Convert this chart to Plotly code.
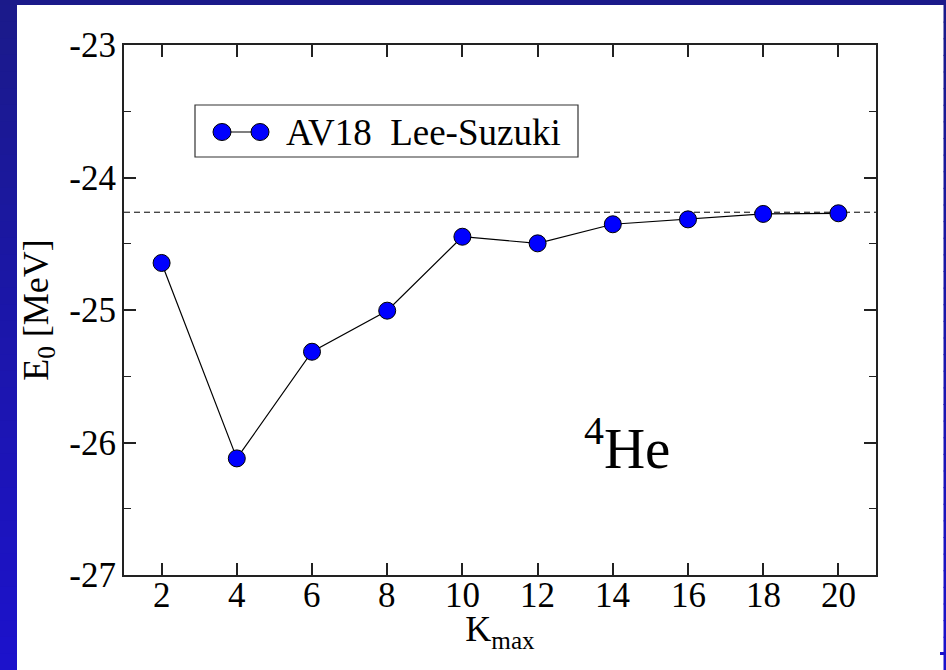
import plotly.graph_objects as go

# ---------------- data ----------------
k_max = [2, 4, 6, 8, 10, 12, 14, 16, 18, 20]
e0 = [-24.645, -26.12, -25.315, -25.005, -24.447, -24.497, -24.353, -24.316, -24.275, -24.27]
e_ref = -24.262  # dashed reference line
series_name = "AV18\u00a0\u00a0Lee-Suzuki"
x_tick_vals = [2, 4, 6, 8, 10, 12, 14, 16, 18, 20]
x_tick_labels = ["2", "4", "6", "8", "10", "12", "14", "16", "18", "20"]
y_tick_vals = [-27, -26, -25, -24, -23]
y_tick_labels = ["-27", "-26", "-25", "-24", "-23"]

FONT = "Liberation Serif, Times New Roman, serif"
W, H = 946, 670
L, R, T, B = 124, 876, 45, 575


def pxx(x):
    return (x - L) / (R - L)


def pxy(y):
    return (B - y) / (B - T)


fig = go.Figure()
fig.add_trace(go.Scatter(
    x=k_max, y=e0, mode="lines+markers", name=series_name,
    line=dict(color="black", width=1.2),
    marker=dict(size=17, color="#0000ff", line=dict(color="black", width=1)),
    showlegend=False,
))

shapes = []
# dashed reference line
shapes.append(dict(type="line", xref="paper", yref="y", x0=0, x1=1, y0=e_ref, y1=e_ref,
                   line=dict(color="black", width=1, dash="6px,4px"), layer="below"))

# slide background (blue frame with vertical gradient)
def mix(c1, c2, t):
    return "rgb(%d,%d,%d)" % tuple(round(a + (b - a) * t) for a, b in zip(c1, c2))

top_c = (27, 26, 138)
bot_c = (28, 18, 204)
shapes.append(dict(type="rect", xref="paper", yref="paper", x0=pxx(0), x1=pxx(W),
                   y0=pxy(5), y1=pxy(0), fillcolor=mix(top_c, bot_c, 0), line=dict(width=0), layer="below"))
n = 40
for i in range(n):
    y0p = 5 + (H - 5) * i / n
    y1p = 5 + (H - 5) * (i + 1) / n + 1
    col = mix(top_c, bot_c, (i + 0.5) / n)
    for xa, xb in [(0, 17), (943.5, W)]:
        shapes.append(dict(type="rect", xref="paper", yref="paper", x0=pxx(xa), x1=pxx(xb),
                           y0=pxy(min(y1p, H)), y1=pxy(y0p), fillcolor=col,
                           line=dict(width=0), layer="below"))
shapes.append(dict(type="rect", xref="paper", yref="paper", x0=pxx(940), x1=pxx(944),
                   y0=pxy(655), y1=pxy(652), fillcolor=mix(top_c, bot_c, 0.97), line=dict(width=0)))

# custom legend box
shapes.append(dict(type="rect", xref="paper", yref="paper", x0=pxx(195), x1=pxx(578),
                   y0=pxy(157), y1=pxy(105), line=dict(color="#333", width=1.2), fillcolor="white"))
shapes.append(dict(type="line", xref="paper", yref="paper", x0=pxx(222), x1=pxx(260),
                   y0=pxy(132), y1=pxy(132), line=dict(color="black", width=1.2)))
for cx in (222, 260):
    shapes.append(dict(type="circle", xref="paper", yref="paper", xsizemode="pixel", ysizemode="pixel",
                       xanchor=pxx(cx), yanchor=pxy(132), x0=-9, x1=9, y0=-8.5, y1=8.5,
                       fillcolor="#0000ff", line=dict(color="black", width=1)))

annotations = [
    dict(text=series_name, xref="paper", yref="paper", x=pxx(284), y=pxy(132),
         xanchor="left", yanchor="middle", showarrow=False,
         font=dict(family=FONT, size=37, color="black")),
    dict(text="<sup>4</sup>He", xref="paper", yref="paper", x=pxx(582), y=pxy(444),
         xanchor="left", yanchor="middle", showarrow=False,
         font=dict(family=FONT, size=57, color="black")),
]
# x tick labels (placed through the x scale)
for v, lab in zip(x_tick_vals, x_tick_labels):
    annotations.append(dict(text=lab, xref="x", yref="paper", x=v, y=0, xanchor="center",
                            yanchor="top", yshift=1, showarrow=False,
                            font=dict(family=FONT, size=35, color="black")))

axis_common = dict(showgrid=False, zeroline=False, showline=True, linecolor="#222", linewidth=2,
                   mirror="ticks", ticks="inside", tickcolor="#222", tickwidth=1.5, ticklen=12,
                   tickfont=dict(family=FONT, size=35, color="black"))

fig.update_layout(
    width=W, height=H,
    margin=dict(l=L, r=W - R, t=T, b=H - B),
    paper_bgcolor="white", plot_bgcolor="white",
    font=dict(family=FONT, color="black"),
    xaxis=dict(**axis_common, range=[1, 21], tickmode="array", tickvals=x_tick_vals,
               ticktext=x_tick_labels, showticklabels=False,
               title=dict(text="K<sub>max</sub>", font=dict(family=FONT, size=36, color="black"),
                          standoff=40)),
    yaxis=dict(**axis_common, range=[-27, -23], tickmode="array", tickvals=y_tick_vals,
               ticktext=y_tick_labels, ticklabelstandoff=-1,
               minor=dict(ticks="inside", ticklen=7, tickwidth=1.2, tickcolor="#222", dtick=0.5,
                          tick0=-27, showgrid=False),
               title=dict(text="E<sub>0</sub> [MeV]", font=dict(family=FONT, size=36, color="black"),
                          standoff=10)),
    shapes=shapes,
    annotations=annotations,
)

fig.write_html("out.html")
